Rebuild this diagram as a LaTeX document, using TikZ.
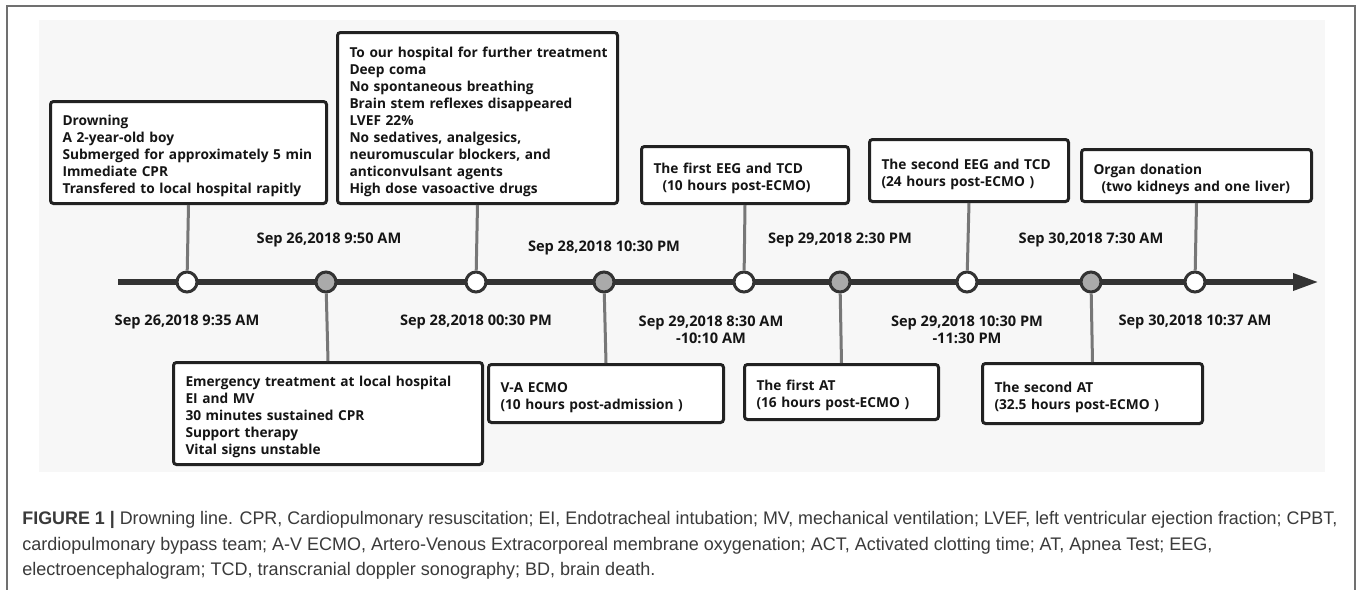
\documentclass[tikz,border=0pt]{standalone}
\usepackage{fontspec}
\setmainfont{Open Sans}
\newfontfamily\capfont{Liberation Sans}
\usetikzlibrary{arrows.meta}
\definecolor{boxline}{HTML}{222222}
\definecolor{tline}{HTML}{333333}
\definecolor{connc}{HTML}{777777}
\definecolor{panelbg}{HTML}{F7F7F7}
\definecolor{dotgray}{HTML}{AAAAAA}
\definecolor{framec}{HTML}{707070}
\definecolor{captxt}{HTML}{3A3A3A}
\definecolor{boxtxt}{HTML}{151515}
\newcommand{\tl}[1]{\raisebox{-2pt}[\height][\depth]{\begin{tabular}{@{}l@{}}#1\end{tabular}}}
\newcommand{\capw}[2]{\resizebox{#1}{\height}{#2}}
\begin{document}
\begin{tikzpicture}[x=0.5pt,y=-0.5pt,
  evbox/.style={draw=boxline, line width=1.5pt, fill=white, rounded corners=1.5pt,
    anchor=north west, align=left, inner xsep=6pt, inner ysep=0pt,
    font=\bfseries\fontsize{6.85}{8.5}\selectfont, text=boxtxt},
  datelbl/.style={align=center, inner sep=0pt, font=\bfseries\fontsize{7.3}{8.3}\selectfont, text=boxtxt},
  dotw/.style={circle, draw=tline, line width=1.5pt, fill=white, minimum size=10pt, inner sep=0pt},
  dotg/.style={dotw, fill=dotgray},
  conn/.style={draw=connc, line width=1.5pt},
  tl/.style={draw=tline, line width=3pt, -{Triangle[length=13pt,width=8pt]}},
  capline/.style={anchor=base west, inner sep=0pt, font=\capfont\fontsize{9.1}{12.75}\selectfont, text=captxt},
  framel/.style={draw=framec, line width=0.6pt}
]
\useasboundingbox (0,0) rectangle (1357,590);
\fill[white] (0,0) rectangle (1357,590);
% frame
\draw[framel] (7,590) -- (7,6) -- (1355,6) -- (1355,590);
% panel
\fill[panelbg] (39,20) rectangle (1325,472);

% timeline
\coordinate (tstart) at (118,282);
\coordinate (tend) at (1319,282);
\draw[tl] (tstart) -- (tend);

% circles
\node[dotw] (c1) at (187,282) {};
\node[dotg] (c2) at (326,282) {};
\node[dotw] (c3) at (476,282) {};
\node[dotg] (c4) at (604,282) {};
\node[dotw] (c5) at (744,282) {};
\node[dotg] (c6) at (840,282) {};
\node[dotw] (c7) at (967,282) {};
\node[dotg] (c8) at (1091,282) {};
\node[dotw] (c9) at (1195,282) {};

% top boxes
\node[evbox, text width=126pt, minimum height=51pt] (b1) at (49,100)
  {\tl{Drowning\\A 2-year-old boy\\Submerged for approximately 5 min\\Immediate CPR\\Transfered to local hospital rapitly}};
\node[evbox, text width=128pt, minimum height=85.5pt] (b2) at (336,31)
  {\tl{To our hospital for further treatment\\Deep coma\\No spontaneous breathing\\Brain stem reflexes disappeared\\LVEF 22\%\\No sedatives, analgesics,\\neuromuscular blockers, and\\anticonvulsant agents\\High dose vasoactive drugs}};
\node[evbox, text width=91.5pt, minimum height=28.5pt] (b3) at (640,145)
  {\tl{The first EEG and TCD\\\hspace{4.5pt}(10 hours post-ECMO)}};
\node[evbox, text width=87.5pt, minimum height=31pt] (b4) at (868,138)
  {\tl{The second EEG and TCD\\(24 hours post-ECMO )}};
\node[evbox, text width=103pt, minimum height=26pt] (b5) at (1080,148)
  {\tl{Organ donation\\\hspace{4pt}(two kidneys and one liver)}};

% bottom boxes
\node[evbox, text width=142.5pt, minimum height=51pt] (b6) at (172,361)
  {\tl{Emergency treatment at local hospital\\EI and MV\\30 minutes sustained CPR\\Support therapy\\Vital signs unstable}};
\node[evbox, text width=105.5pt, minimum height=29pt] (b7) at (487,363)
  {\tl{V-A ECMO\\(10 hours post-admission )}};
\node[evbox, text width=85pt, minimum height=27.5pt] (b8) at (743,363)
  {\tl{The first AT\\(16 hours post-ECMO )}};
\node[evbox, text width=98pt, minimum height=30pt] (b9) at (981,362)
  {\tl{The second AT\\(32.5 hours post-ECMO )}};

% connectors
\draw[conn] (b1.south) -- (c1);
\draw[conn] (b2.south) -- (c3);
\draw[conn] (b3.south) -- (c5);
\draw[conn] (b4.south) -- (c7);
\draw[conn] (b5.south) -- (c9);
\draw[conn] (b6.north) -- (c2);
\draw[conn] (b7.north) -- (c4);
\draw[conn] (b8.north) -- (c6);
\draw[conn] (b9.north) -- (c8);

% date labels
\node[datelbl] (d2) at (329,240) {Sep 26,2018 9:50 AM};
\node[datelbl] (d4) at (604,248) {Sep 28,2018 10:30 PM};
\node[datelbl] (d6) at (840,240) {Sep 29,2018 2:30 PM};
\node[datelbl] (d8) at (1091,240) {Sep 30,2018 7:30 AM};
\node[datelbl] (d1) at (187,322) {Sep 26,2018 9:35 AM};
\node[datelbl] (d3) at (476,322) {Sep 28,2018 00:30 PM};
\node[datelbl] (d5) at (711,330) {Sep 29,2018 8:30 AM\\-10:10 AM};
\node[datelbl] (d7) at (967,330) {Sep 29,2018 10:30 PM\\-11:30 PM};
\node[datelbl] (d9) at (1195,322) {Sep 30,2018 10:37 AM};

% caption
\node[capline] (cap1) at (22,524.5) {\capw{657.5pt}{{\bfseries FIGURE 1 |} Drowning line. CPR, Cardiopulmonary resuscitation; EI, Endotracheal intubation; MV, mechanical ventilation; LVEF, left ventricular ejection fraction; CPBT,}};
\node[capline] (cap2) at (22,550.5) {\capw{595pt}{cardiopulmonary bypass team; A-V ECMO, Artero-Venous Extracorporeal membrane oxygenation; ACT, Activated clotting time; AT, Apnea Test; EEG,}};
\node[capline] (cap3) at (22,575.5) {\capw{316.5pt}{electroencephalogram; TCD, transcranial doppler sonography; BD, brain death.}};
\end{tikzpicture}
\end{document}
